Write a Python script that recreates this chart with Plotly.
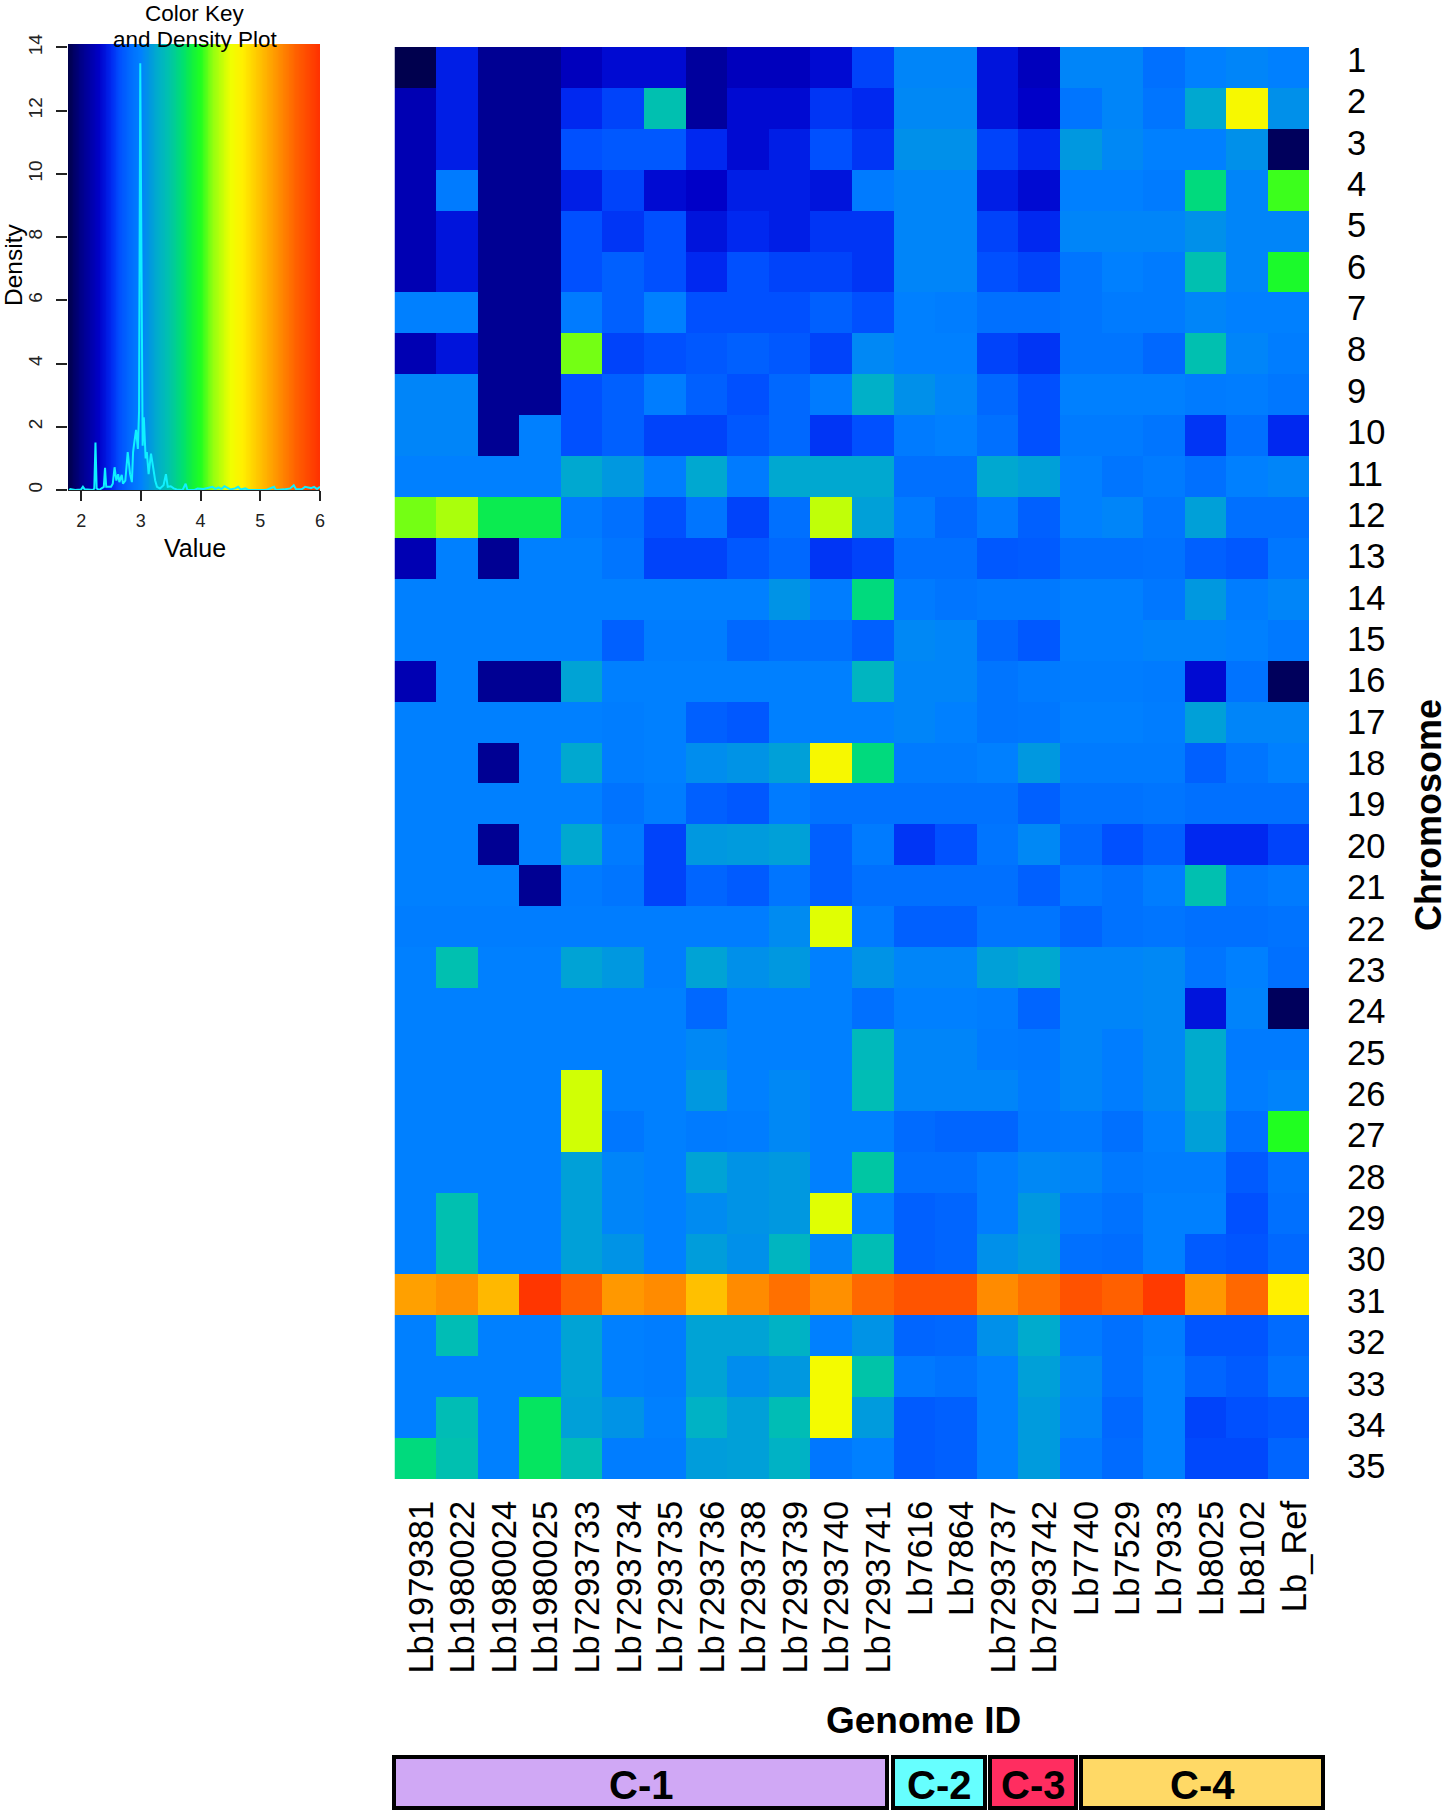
import numpy as np
import plotly.graph_objects as go

W, H = 1449, 1810
FONT = "Liberation Sans"

genomes = ["Lb1979381","Lb1980022","Lb1980024","Lb1980025","Lb7293733","Lb7293734","Lb7293735","Lb7293736",
           "Lb7293738","Lb7293739","Lb7293740","Lb7293741","Lb7616","Lb7864","Lb7293737","Lb7293742",
           "Lb7740","Lb7529","Lb7933","Lb8025","Lb8102","Lb_Ref"]
chromosomes = [str(i) for i in range(1, 36)]

somy = [
 [1.8,2.45,2.05,2.05,2.25,2.35,2.35,2.1,2.25,2.25,2.35,2.6,3.03,3.03,2.4,2.25,3.03,3.03,2.85,3.0,3.03,3.0],
 [2.2,2.45,2.05,2.05,2.5,2.6,3.45,2.1,2.35,2.35,2.55,2.5,3.05,3.05,2.4,2.3,2.9,3.03,2.9,3.25,4.6,3.1],
 [2.2,2.45,2.05,2.05,2.65,2.7,2.7,2.5,2.35,2.45,2.65,2.55,3.1,3.1,2.6,2.5,3.15,3.05,3.0,3.0,3.1,1.85],
 [2.2,2.95,2.05,2.05,2.45,2.6,2.35,2.3,2.45,2.45,2.4,2.95,3.03,3.03,2.45,2.35,3.0,3.0,2.95,3.65,3.03,4.05],
 [2.2,2.4,2.05,2.05,2.65,2.55,2.65,2.4,2.5,2.45,2.55,2.55,3.03,3.03,2.6,2.5,3.03,3.03,3.03,3.1,3.03,3.03],
 [2.2,2.4,2.05,2.05,2.65,2.75,2.65,2.5,2.65,2.6,2.6,2.55,3.03,3.03,2.65,2.6,2.9,3.0,2.95,3.45,3.03,3.95],
 [3.0,3.0,2.05,2.05,2.95,2.75,3.0,2.65,2.65,2.65,2.75,2.65,3.0,2.97,2.85,2.85,2.9,2.95,2.95,3.03,3.0,3.0],
 [2.2,2.4,2.05,2.05,4.15,2.6,2.65,2.7,2.75,2.7,2.6,3.05,3.0,3.0,2.6,2.55,2.9,2.9,2.8,3.45,3.03,2.97],
 [3.03,3.03,2.05,2.05,2.65,2.75,2.97,2.75,2.65,2.8,2.95,3.3,3.1,3.03,2.8,2.65,3.0,3.0,3.0,2.95,2.97,2.92],
 [3.03,3.03,2.05,3.0,2.65,2.75,2.6,2.6,2.7,2.8,2.55,2.65,2.95,3.0,2.85,2.65,2.95,2.95,2.9,2.55,2.85,2.5],
 [3.0,3.0,3.0,3.0,3.25,3.15,2.97,3.25,2.95,3.25,3.25,3.25,2.85,2.85,3.25,3.2,3.0,2.9,2.95,2.85,3.0,3.03],
 [4.15,4.28,3.8,3.8,2.95,2.85,2.65,2.9,2.6,2.85,4.35,3.2,2.95,2.8,2.95,2.75,3.0,3.03,2.9,3.2,2.85,2.85],
 [2.2,3.0,2.05,3.0,3.0,2.9,2.6,2.6,2.7,2.8,2.55,2.6,2.85,2.85,2.7,2.72,2.85,2.85,2.87,2.75,2.7,2.92],
 [3.0,3.0,3.0,3.0,3.0,3.0,3.0,3.0,3.0,3.12,2.97,3.65,2.95,2.9,2.93,2.93,3.0,3.0,2.92,3.15,2.97,3.03],
 [3.0,3.0,3.0,3.0,3.0,2.75,2.97,2.97,2.8,2.85,2.85,2.75,3.05,3.03,2.8,2.7,3.0,3.0,3.02,3.02,3.0,2.93],
 [2.2,3.0,2.05,2.05,3.22,3.0,3.0,3.0,3.0,3.0,3.0,3.35,3.03,3.03,2.9,2.95,2.97,2.97,2.95,2.35,2.88,1.85],
 [3.0,3.0,3.0,3.0,3.0,2.97,3.0,2.75,2.7,3.0,3.0,3.0,3.03,3.0,2.9,2.92,3.0,3.0,2.97,3.2,3.03,3.03],
 [3.0,3.0,2.05,3.0,3.25,2.97,3.0,3.08,3.12,3.2,4.6,3.65,2.95,2.95,3.0,3.15,2.95,2.95,2.95,2.75,2.9,3.0],
 [3.0,3.0,3.0,3.0,3.0,2.88,2.97,2.75,2.7,2.95,2.87,2.87,2.87,2.87,2.87,2.75,2.87,2.87,2.9,2.85,2.85,2.85],
 [3.0,3.0,2.05,3.0,3.25,2.95,2.6,3.15,3.17,3.2,2.75,2.95,2.55,2.65,2.9,3.05,2.8,2.65,2.75,2.5,2.5,2.6],
 [3.0,3.0,3.0,2.05,2.95,2.9,2.6,2.78,2.72,2.9,2.75,2.85,2.85,2.85,2.85,2.75,2.93,2.87,2.97,3.45,2.9,2.95],
 [2.97,2.97,2.97,2.97,2.97,2.97,2.97,2.97,2.97,3.07,4.45,2.95,2.75,2.75,2.9,2.9,2.78,2.87,2.9,2.85,2.85,2.88],
 [3.0,3.45,3.0,3.0,3.22,3.15,2.97,3.22,3.1,3.15,3.0,3.12,3.03,3.03,3.2,3.25,3.03,3.03,3.05,2.9,3.0,2.85],
 [3.0,3.0,3.0,3.0,3.0,3.0,3.0,2.8,3.0,3.0,3.0,2.85,3.0,3.0,2.97,2.78,3.03,3.03,3.05,2.4,3.02,1.85],
 [3.0,3.0,3.0,3.0,3.0,3.0,3.0,3.05,3.0,3.0,3.0,3.38,3.03,3.03,2.95,2.93,3.03,2.97,3.05,3.27,2.95,2.95],
 [3.0,3.0,3.0,3.0,4.4,3.0,3.0,3.15,3.0,3.05,3.0,3.42,3.03,3.03,3.03,2.95,3.03,2.97,3.05,3.27,2.97,3.02],
 [3.0,3.0,3.0,3.0,4.4,2.92,3.0,2.95,2.97,3.05,3.0,3.0,2.82,2.78,2.78,2.93,2.95,2.85,3.0,3.2,2.85,4.0],
 [3.0,3.0,3.0,3.0,3.2,3.03,3.0,3.22,3.12,3.15,3.0,3.5,2.85,2.85,2.97,3.05,3.03,2.93,2.97,2.97,2.72,2.88],
 [3.0,3.45,3.0,3.0,3.2,3.03,3.0,3.07,3.12,3.15,4.45,3.0,2.75,2.78,2.97,3.15,2.93,2.87,3.0,3.0,2.65,2.85],
 [3.0,3.45,3.0,3.0,3.2,3.12,3.0,3.18,3.1,3.35,3.03,3.42,2.75,2.78,3.1,3.17,2.85,2.83,3.0,2.72,2.68,2.8],
 [5.2,5.3,5.05,5.95,5.6,5.25,5.33,5.0,5.33,5.5,5.3,5.55,5.7,5.7,5.33,5.5,5.72,5.6,5.92,5.25,5.55,4.7],
 [3.0,3.42,3.0,3.0,3.22,3.0,2.97,3.22,3.22,3.32,3.0,3.12,2.78,2.8,3.1,3.27,2.95,2.85,2.97,2.68,2.68,2.82],
 [3.0,3.0,3.0,3.0,3.22,3.0,2.97,3.22,3.08,3.15,4.55,3.48,2.93,2.88,3.0,3.2,3.05,2.85,3.0,2.78,2.72,2.88],
 [3.0,3.42,3.0,3.75,3.2,3.12,3.0,3.32,3.2,3.42,4.55,3.17,2.72,2.75,3.0,3.17,3.03,2.8,3.0,2.6,2.65,2.7],
 [3.65,3.45,3.0,3.75,3.42,2.97,2.97,3.18,3.2,3.32,2.92,3.0,2.72,2.75,3.0,3.17,2.95,2.82,3.0,2.62,2.62,2.78],
]

density_x = [1.8,1.82,1.9,2.0,2.03,2.06,2.2,2.22,2.24,2.26,2.3,2.34,2.38,2.4,2.42,2.46,2.5,2.53,2.56,2.59,2.62,2.64,
             2.68,2.7,2.74,2.78,2.8,2.82,2.85,2.87,2.89,2.92,2.95,2.97,2.99,3.01,3.03,3.05,3.08,3.1,3.13,3.17,3.2,
             3.24,3.27,3.32,3.38,3.42,3.45,3.5,3.55,3.6,3.7,3.75,3.78,3.9,3.95,4.05,4.2,4.25,4.3,4.35,4.4,4.45,4.5,
             4.58,4.63,4.67,4.75,4.8,5.1,5.23,5.26,5.4,5.5,5.56,5.6,5.7,5.75,5.8,5.85,5.9,5.95,6.0]
density_y = [0,0.03,0,0.02,0.1,0.02,0,0.05,1.5,0.05,0,0.05,0.1,0.7,0.1,0.1,0.1,0.2,0.72,0.3,0.5,0.25,
             0.48,0.2,0.3,1.2,0.9,0.5,0.25,1.2,1.5,1.9,1.3,2.5,13.5,5,1.4,2.3,1.0,1.2,0.5,1.15,0.8,
             0.3,0.1,0.05,0.15,0.5,0.1,0.12,0.05,0.02,0,0.2,0,0,0.05,0.03,0.1,0.03,0.08,0.03,0.12,0.08,0.02,
             0.05,0.1,0.02,0.05,0,0,0.1,0,0.02,0.05,0.15,0.02,0.03,0.1,0.08,0.06,0.1,0.03,0.1]

color_stops = [(1.78,"#000048"),(2.0,"#000088"),(2.3,"#0000c8"),(2.5,"#0028f0"),(2.65,"#0050ff"),(2.85,"#0070ff"),
               (3.0,"#0080ff"),(3.15,"#0098e0"),(3.3,"#00b0c8"),(3.45,"#00c0b0"),(3.7,"#00e070"),(3.85,"#10f040"),
               (4.0,"#20ff20"),(4.2,"#90ff10"),(4.35,"#c0ff08"),(4.5,"#f0ff00"),(4.7,"#fff000"),(5.0,"#ffc000"),
               (5.3,"#ff9000"),(5.6,"#ff6000"),(6.0,"#ff3000")]
group_labels = ["C-1","C-2","C-3","C-4"]
group_colors = ["#d0a8f5","#66ffff","#ff2d60","#ffd966"]
group_spans_px = [(394,887),(893,985),(990,1076),(1081,1323)]

ZMIN, ZMAX = 1.78, 6.0
KEY_TOP = 14.11
colorscale = [[(v-ZMIN)/(ZMAX-ZMIN), c] for v, c in color_stops]
key_x = np.linspace(ZMIN, ZMAX, 300)

def px(x): return x / W
def py(y): return 1 - y / H

fig = go.Figure()
fig.add_trace(go.Heatmap(z=somy, x=list(range(len(genomes))), y=list(range(len(chromosomes))),
                         coloraxis="coloraxis", hoverongaps=False, xaxis="x", yaxis="y"))
fig.add_trace(go.Heatmap(z=[key_x, key_x], x=key_x, y=[0, KEY_TOP], coloraxis="coloraxis", xaxis="x2", yaxis="y2"))
fig.add_trace(go.Scatter(x=density_x, y=density_y, mode="lines", line=dict(color="#10f0ff", width=2),
                         xaxis="x2", yaxis="y2", showlegend=False))

n_r = len(chromosomes)
row_ticks = [(n_r-1)/2 + (i-(n_r-1)/2)*1.011 for i in range(n_r)]
col_ticks = [i + 0.15 for i in range(len(genomes))]

fig.update_layout(
    width=W, height=H, margin=dict(l=0, r=0, t=0, b=0), paper_bgcolor="white", plot_bgcolor="white",
    showlegend=False, font=dict(family=FONT, color="black"),
    coloraxis=dict(colorscale=colorscale, cmin=ZMIN, cmax=ZMAX, showscale=False),
    xaxis=dict(domain=[px(394.5), px(1309)], range=[-0.5, len(genomes)-0.5], tickmode="array", tickvals=col_ticks,
               ticktext=genomes, tickangle=-90, tickfont=dict(size=34.5), ticks="", showgrid=False, zeroline=False,
               ticklabelstandoff=14, anchor="y", automargin=False),
    yaxis=dict(domain=[py(1479), py(47)], range=[n_r-0.5, -0.5], tickmode="array", tickvals=row_ticks,
               ticktext=chromosomes, side="right", tickfont=dict(size=34.5), ticks="", showgrid=False, zeroline=False,
               ticklabelstandoff=37, anchor="x", automargin=False),
    xaxis2=dict(domain=[px(68), px(320)], range=[ZMIN, ZMAX], tickvals=[2,3,4,5,6], ticks="outside", ticklen=10,
                tickwidth=1.5, tickcolor="#222", tickfont=dict(size=18, color="#222"), showgrid=False, zeroline=False,
                showline=True, linecolor="#222", anchor="y2", automargin=False, ticklabelstandoff=4),
    yaxis2=dict(domain=[py(490), py(44)], range=[0, KEY_TOP], tickvals=list(range(0,15,2)), ticks="outside", ticklen=11,
                tickwidth=1.5, tickcolor="#222", tickangle=-90, tickfont=dict(size=19, color="#222"), showgrid=False,
                zeroline=False, anchor="x2", ticklabelstandoff=6, automargin=False),
)

shapes, notes = [], []
def note(text, x, y, size, bold=False, angle=0, color="black"):
    notes.append(dict(text=f"<b>{text}</b>" if bold else text, x=px(x), y=py(y), xref="paper", yref="paper",
                      showarrow=False, font=dict(size=size, family=FONT, color=color), textangle=angle,
                      xanchor="center", yanchor="middle"))

for lab, col, (x0, x1) in zip(group_labels, group_colors, group_spans_px):
    shapes.append(dict(type="rect", xref="paper", yref="paper", x0=px(x0), x1=px(x1), y0=py(1808), y1=py(1757),
                       fillcolor=col, line=dict(color="black", width=4)))
    note(lab, (x0+x1)/2, 1785, 40, bold=True)

note("Genome ID", 924, 1720, 37, bold=True)
note("Chromosome", 1428, 815, 36, bold=True, angle=-90)
note("Color Key", 195, 13, 22.5)
note("and Density Plot", 195, 39, 22.5)
note("Value", 195, 548, 25)
note("Density", 13, 265, 24.5, angle=-90)

fig.update_layout(shapes=shapes, annotations=notes)
fig.write_html("out.html", config=dict(displayModeBar=False),
               post_script="document.body.style.margin='0';document.body.style.overflow='hidden';")
